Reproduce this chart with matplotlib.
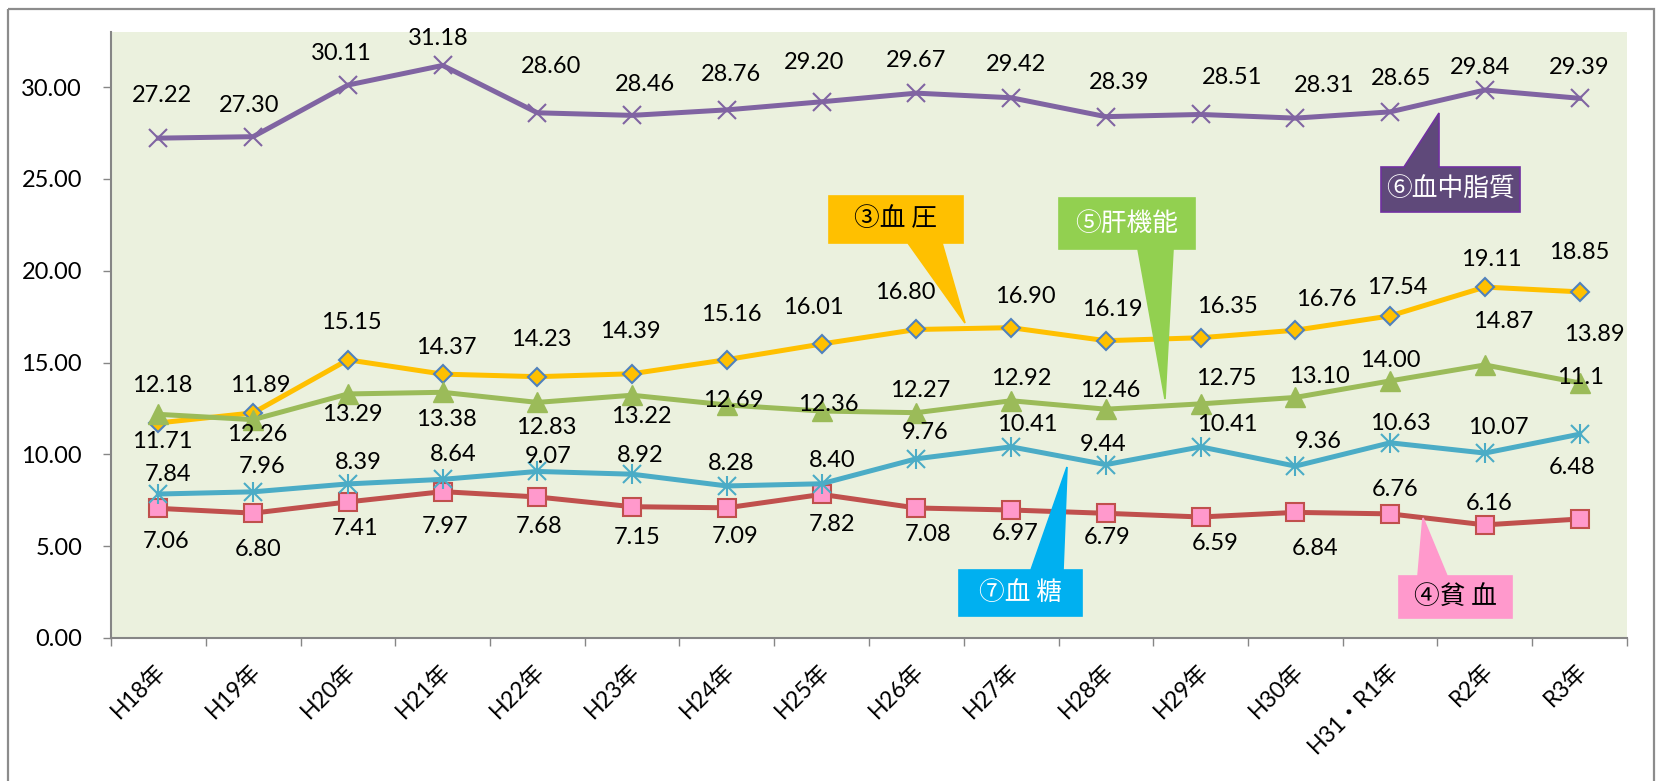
import matplotlib
matplotlib.use('Agg')
import matplotlib.pyplot as plt
from matplotlib.patches import Polygon, Rectangle
from matplotlib.transforms import Affine2D, ScaledTranslation
import numpy as np

# ---------------- data ----------------
categories = ['H18年', 'H19年', 'H20年', 'H21年', 'H22年', 'H23年', 'H24年', 'H25年',
              'H26年', 'H27年', 'H28年', 'H29年', 'H30年', 'H31・R1年', 'R2年', 'R3年']

lipid = [27.22, 27.30, 30.11, 31.18, 28.60, 28.46, 28.76, 29.20,
         29.67, 29.42, 28.39, 28.51, 28.31, 28.65, 29.84, 29.39]      # ⑥血中脂質
blood_pressure = [11.71, 12.26, 15.15, 14.37, 14.23, 14.39, 15.16, 16.01,
                  16.80, 16.90, 16.19, 16.35, 16.76, 17.54, 19.11, 18.85]  # ③血圧
liver = [12.18, 11.89, 13.29, 13.38, 12.83, 13.22, 12.69, 12.36,
         12.27, 12.92, 12.46, 12.75, 13.10, 14.00, 14.87, 13.89]      # ⑤肝機能
glucose = [7.84, 7.96, 8.39, 8.64, 9.07, 8.92, 8.28, 8.40,
           9.76, 10.41, 9.44, 10.41, 9.36, 10.63, 10.07, 11.1]        # ⑦血糖
anemia = [7.06, 6.80, 7.41, 7.97, 7.68, 7.15, 7.09, 7.82,
          7.08, 6.97, 6.79, 6.59, 6.84, 6.76, 6.16, 6.48]             # ④貧血

yticks = [0, 5, 10, 15, 20, 25, 30]

# data label text (last 血糖 value shown without trailing zero)
lipid_text = [f'{v:.2f}' for v in lipid]
bp_text = [f'{v:.2f}' for v in blood_pressure]
liver_text = [f'{v:.2f}' for v in liver]
glucose_text = [f'{v:.2f}' for v in glucose[:-1]] + [f'{glucose[-1]:g}']
anemia_text = [f'{v:.2f}' for v in anemia]

# ---------------- layout (pixels) ----------------
W, H, DPI = 1663, 781, 100
# label offsets in px relative to the point (dy positive = up)
lipid_dy = [43, 31, 32, 27, 46, 31, 35, 39, 33, 33, 34, 37, 33, 33, 23, 31]
lipid_dx = [4, -4, -7, -4, 14, 13, 4, -8, 0, 5, 13, 31, 29, 11, -5, 0]
bp_dy = [-19, -22, 37, 27, 37, 42, 45, 36, 37, 31, 31, 31, 31, 28, 28, 39]
bp_dx = [4, 4, 3, 4, 4, -2, 4, -8, -11, 14, 6, 27, 31, 7, 6, 0]
liver_dy = [29, 34, -21, -27, -25, -21, 4, 7, 22, 22, 19, 25, 21, 20, 43, 48]
liver_dx = [4, 7, 4, 4, 9, 9, 6, 7, 4, 10, 4, 26, 24, 0, 18, 15]
glucose_dy = [20, 25, 21, 25, 15, 19, 22, 23, 26, 22, 20, 22, 25, 19, 26, 57]
glucose_dx = [10, 9, 10, 11, 11, 8, 4, 11, 9, 16, -3, 27, 23, 10, 13, 1]
anemia_dy = [-33, -36, -27, -35, -30, -31, -29, -30, -27, -23, -24, -27, -36, 24, 21, 52]
anemia_dx = [8, 5, 7, 2, 2, 5, 8, 10, 12, 4, 1, 15, 20, 5, 4, -8]

plt.rcParams['font.family'] = ['Lato', 'Noto Sans CJK JP', 'DejaVu Sans']

fig = plt.figure(figsize=(W / DPI, H / DPI), dpi=DPI)
fig.patch.set_facecolor('white')
ax = fig.add_axes([111 / W, 1 - 638 / H, (1627 - 111) / W, (638 - 32) / H])
ax.set_facecolor('#EBF1DE')

x = np.arange(len(categories))

series = [
    dict(y=blood_pressure, txt=bp_text, dy=bp_dy, dx=bp_dx, color='#FFC000', marker='D', ms=9,
         mfc='#FFC000', mec='#4F81BD', mew=1.5, z=3),
    dict(y=anemia, txt=anemia_text, dy=anemia_dy, dx=anemia_dx, color='#C0504D', marker='s', ms=13,
         mfc='#FF99CC', mec='#C0504D', mew=1.5, z=4),
    dict(y=liver, txt=liver_text, dy=liver_dy, dx=liver_dx, color='#9BBB59', marker='^', ms=14,
         mfc='#9BBB59', mec='#9BBB59', mew=1, z=5),
    dict(y=lipid, txt=lipid_text, dy=lipid_dy, dx=lipid_dx, color='#8064A2', marker='x', ms=13,
         mfc='#8064A2', mec='#8064A2', mew=1.5, z=6),
    dict(y=glucose, txt=glucose_text, dy=glucose_dy, dx=glucose_dx, color='#4BACC6', marker='x', ms=13,
         mfc='#4BACC6', mec='#4BACC6', mew=1.5, z=7),
]

for s in series:
    ax.plot(x, s['y'], color=s['color'], lw=3.6, marker=s['marker'], ms=s['ms'],
            mfc=s['mfc'], mec=s['mec'], mew=s['mew'], zorder=s['z'], solid_joinstyle='round')
    if s['y'] is glucose:
        ax.plot(x, s['y'], ls='none', marker='|', ms=15, mec=s['color'], mew=1.5, zorder=s['z'])
    for i, (v, t) in enumerate(zip(s['y'], s['txt'])):
        ax.annotate(t, (i, v), xytext=(s['dx'][i] * 0.72, s['dy'][i] * 0.72),
                    textcoords='offset points', ha='center', va='center',
                    fontsize=17, color='black', zorder=10)

ax.set_xlim(-0.5, len(categories) - 0.5)
ax.set_ylim(0, 33)
ax.set_yticks(yticks)
ax.set_yticklabels([f'{v:.2f}' for v in yticks])
ax.tick_params(axis='y', direction='out', length=5.8, width=1, color='#868686', pad=15,
               labelsize=17)

ax.set_xticks(np.arange(-0.5, len(categories), 1))
ax.set_xticklabels([''] * (len(categories) + 1))
ax.tick_params(axis='x', which='major', direction='out', length=5.5, width=1, color='#868686')
ax.set_xticks(x, categories, minor=True)
ax.tick_params(axis='x', which='minor', length=0, pad=21, labelsize=16.5)
shift = ScaledTranslation(4 / DPI, 0, fig.dpi_scale_trans)
for lbl in ax.get_xticklabels(minor=True):
    lbl.set_rotation(45)
    lbl.set_ha('right')
    lbl.set_va('center')
    lbl.set_rotation_mode('anchor')
    lbl.set_transform(lbl.get_transform() + shift)

for side in ['top', 'right']:
    ax.spines[side].set_visible(False)
for side in ['left', 'bottom']:
    ax.spines[side].set_color('#868686')
    ax.spines[side].set_linewidth(1.5)

# ---------------- outer frame & callouts (pixel coords, y downward) ----------------
pxT = Affine2D().scale(1.0 / W, -1.0 / H).translate(0, 1) + fig.transFigure

fig.patches.append(Rectangle((8, 9), 1654 - 8, 820, transform=pxT, fill=False,
                             edgecolor='#8C8C8C', lw=1.6, clip_on=False))

def callout(box, base, tip, side, face, edge, text, tcolor):
    x0, y0, x1, y1 = box
    b0, b1 = base
    if side == 'bottom':
        pts = [(x0, y0), (x1, y0), (x1, y1), (b1, y1), tip, (b0, y1), (x0, y1)]
    else:
        pts = [(x0, y0), (b0, y0), tip, (b1, y0), (x1, y0), (x1, y1), (x0, y1)]
    fig.patches.append(Polygon(pts, closed=True, transform=pxT, facecolor=face,
                               edgecolor=edge, lw=1.2, zorder=20))
    fig.text(((x0 + x1) / 2) / W, 1 - ((y0 + y1) / 2) / H, text, ha='center', va='center',
             color=tcolor, fontsize=18.5, family=['Noto Sans CJK JP'], zorder=21)

callout((829, 196, 963, 243), (908, 942), (965, 323), 'bottom', '#FFC000', '#FFC000', '③血 圧', 'black')
callout((1059, 198, 1195, 249), (1138, 1173), (1165, 399), 'bottom', '#92D050', '#92D050', '⑤肝機能', 'white')
callout((1381, 167, 1520, 212), (1404, 1439), (1439, 113), 'top', '#5F497A', '#7030A0', '⑥血中脂質', 'white')
callout((959, 570, 1082, 616), (1031, 1063), (1067, 467), 'top', '#00B0F0', '#00B0F0', '⑦血 糖', 'white')
callout((1399, 576, 1512, 618), (1418, 1447), (1423, 518), 'top', '#FF99CC', '#FF99CC', '④貧 血', 'black')

fig.savefig('out.png', dpi=DPI)
